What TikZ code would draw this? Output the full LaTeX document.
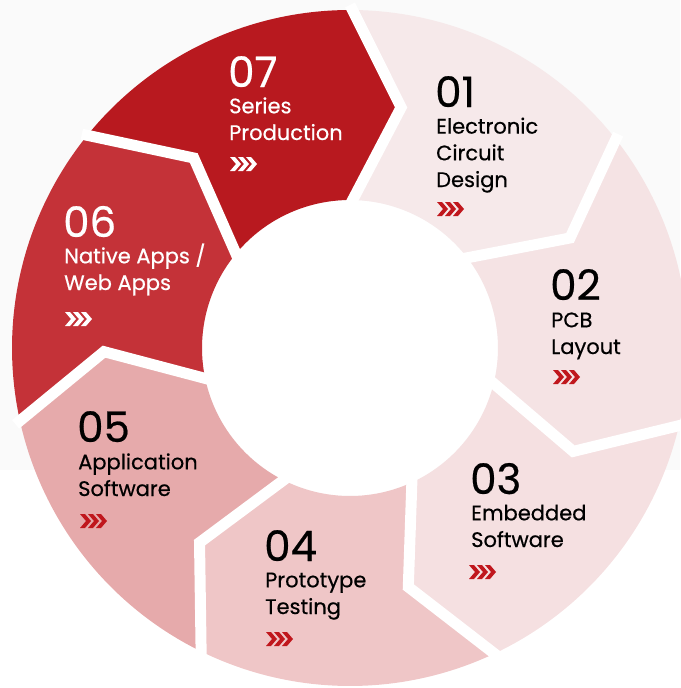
\documentclass[tikz,border=0pt]{standalone}
\usepackage{fontspec}
\setmainfont{Poppins}[FakeBold=0.5]
\usetikzlibrary{positioning}

\definecolor{bgGray}{HTML}{FAFAFA}
\definecolor{segOne}{HTML}{F6E9EA}
\definecolor{segTwo}{HTML}{F5E3E4}
\definecolor{segThree}{HTML}{F5E0E1}
\definecolor{segFour}{HTML}{EFC6C7}
\definecolor{segFive}{HTML}{E6AAAB}
\definecolor{segSix}{HTML}{C43238}
\definecolor{segSeven}{HTML}{B8191F}
\definecolor{chevRed}{HTML}{C0171D}

% three chevrons, top left corner at (#1,#2)
\newcommand{\chevmark}[3]{%
  \foreach \k in {0,8,16}{
    \fill[#3, shift={(#1+\k,#2)}] (0,0) -- (5,0) -- (11,-7) -- (5,-14) -- (0,-14) -- (6,-7) -- cycle;
  }
}

\begin{document}
\begin{tikzpicture}[x=1pt,y=1pt]
	\tikzstyle{Num}		= [anchor=base west, inner sep=0pt, font=\fontsize{42}{42}\selectfont]
	\tikzstyle{Label}	= [anchor=base west, inner sep=0pt, align=left, font=\fontsize{21}{26.7}\selectfont]
	\tikzstyle{Dark}	= [text=white]
	\tikzstyle{Light}	= [text=black]
	\tikzstyle{Gap}		= [white, line width=11pt, line join=miter]

	\useasboundingbox (0,-688) rectangle (680,0);
	\fill[bgGray] (0,-470) rectangle (680,0);

	\begin{scope}[shift={(350,-348)}]
		\fill[white] (0,0) circle[radius=148];
		\foreach \i/\c in {0/segOne,1/segTwo,2/segThree,3/segFour,4/segFive,5/segSix,6/segSeven}{
			\pgfmathsetmacro{\a}{90-51.4286*\i}
			\pgfmathsetmacro{\b}{\a-51.4286}
			\pgfmathsetmacro{\at}{\a-12}
			\pgfmathsetmacro{\bt}{\b-12}
			\fill[\c] (\a:338) arc[start angle=\a, end angle=\b, radius=338]
				-- (\bt:246) -- (\b:148) arc[start angle=\b, end angle=\a, radius=148]
				-- (\at:246) -- cycle;
		}
		% white gaps between the steps
		\foreach \i in {0,...,6}{
			\pgfmathsetmacro{\a}{90-51.4286*\i}
			\pgfmathsetmacro{\at}{\a-12}
			\draw[Gap] (\a:343) -- (\at:246) -- (\a:143);
		}
	\end{scope}

	% labels: base anchor sits on the last line
	\node (n01) at (435,-107) [Num][Light] {01};
	\node (t01) at (436,-187) [Label][Light] {Electronic\\Circuit\\Design};
	\chevmark{437}{-202}{chevRed}

	\node (n02) at (550,-300) [Num][Light] {02};
	\node (t02) at (551,-354) [Label][Light] {PCB\\Layout};
	\chevmark{553}{-370}{chevRed}

	\node (n03) at (470,-494) [Num][Light] {03};
	\node (t03) at (471,-547) [Label][Light] {Embedded\\Software};
	\chevmark{469}{-565}{chevRed}

	\node (n04) at (264,-561) [Num][Light] {04};
	\node (t04) at (265,-614) [Label][Light] {Prototype\\Testing};
	\chevmark{266}{-632}{chevRed}

	\node (n05) at (77,-442) [Num][Light] {05};
	\node (t05) at (78,-496) [Label][Light] {Application\\Software};
	\chevmark{80}{-514}{chevRed}

	\node (n06) at (63,-237) [Num][Dark] {06};
	\node (t06) at (64,-290) [Label][Dark] {Native Apps /\\Web Apps};
	\chevmark{65}{-312}{white}

	\node (n07) at (228,-87) [Num][Dark] {07};
	\node (t07) at (229,-140) [Label][Dark] {Series\\Production};
	\chevmark{230}{-157}{white}
\end{tikzpicture}
\end{document}
